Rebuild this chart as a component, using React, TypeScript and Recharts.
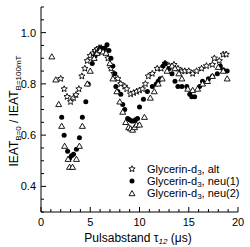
import React from "react";
import { ScatterChart, Scatter, XAxis, YAxis } from "recharts";

// Glycerin-d3, alt (open stars)
const altX = [2.0, 2.35, 2.65, 3.0, 3.3, 3.55, 3.85, 4.15, 4.45, 4.7, 5.0, 5.3, 5.5, 5.7, 5.9, 6.1, 6.3, 6.5, 6.8, 7.1, 7.4, 7.8, 8.1, 8.5, 8.7, 9.1, 9.4, 9.7, 10.0, 10.3, 10.6, 10.9, 11.3, 11.8, 12.2, 12.6, 13.0, 13.5, 13.9, 14.3, 14.6, 15.0, 15.4, 15.8, 16.3, 16.8, 17.4, 17.6, 18.1, 18.5, 18.8];
const altY = [0.82, 0.78, 0.75, 0.73, 0.745, 0.757, 0.78, 0.83, 0.86, 0.89, 0.91, 0.92, 0.93, 0.935, 0.94, 0.94, 0.935, 0.93, 0.9, 0.86, 0.84, 0.82, 0.8, 0.79, 0.78, 0.76, 0.765, 0.77, 0.775, 0.78, 0.8, 0.83, 0.84, 0.86, 0.86, 0.88, 0.87, 0.875, 0.86, 0.85, 0.85, 0.85, 0.84, 0.85, 0.86, 0.87, 0.875, 0.9, 0.89, 0.915, 0.915];

// Glycerin-d3, neu(1) (filled circles)
const neu1X = [2.1, 2.35, 2.7, 2.9, 3.1, 3.3, 3.6, 3.9, 4.2, 4.55, 4.8, 5.2, 5.5, 5.7, 5.9, 6.1, 6.3, 6.5, 6.7, 6.9, 7.1, 7.3, 7.5, 7.6, 7.8, 8.1, 8.3, 8.5, 8.8, 9.0, 9.2, 9.4, 9.6, 9.8, 10.0, 10.4, 10.8, 11.3, 11.7, 11.9, 12.1, 12.4, 12.6, 13.0, 13.3, 13.6, 13.9, 14.3, 14.8, 15.1, 15.3, 15.6, 16.1, 16.4, 17.0, 17.4, 17.9, 18.2, 18.5, 18.9];
const neu1Y = [0.67, 0.6, 0.537, 0.51, 0.52, 0.525, 0.545, 0.59, 0.67, 0.73, 0.8, 0.88, 0.91, 0.92, 0.93, 0.94, 0.935, 0.94, 0.953, 0.93, 0.9, 0.87, 0.84, 0.79, 0.77, 0.76, 0.72, 0.7, 0.665, 0.66, 0.655, 0.655, 0.66, 0.665, 0.71, 0.74, 0.77, 0.79, 0.8, 0.81, 0.82, 0.87, 0.88, 0.86, 0.84, 0.81, 0.79, 0.79, 0.79, 0.76, 0.75, 0.75, 0.79, 0.81, 0.82, 0.83, 0.84, 0.87, 0.855, 0.85];

// Glycerin-d3, neu(2) (open triangles)
const neu2X = [1.1, 1.5, 1.8, 2.1, 2.4, 2.75, 2.9, 3.2, 3.6, 3.9, 4.2, 4.7, 5.0, 5.4, 5.7, 6.0, 6.3, 6.6, 7.0, 7.3, 7.7, 8.0, 8.3, 8.6, 8.9, 9.1, 9.3, 9.5, 9.7, 10.0, 10.5, 11.1, 11.5, 11.9, 12.3, 12.8, 13.3, 13.6, 14.0, 14.3, 14.9, 15.4, 15.9, 16.4, 16.9, 17.4, 18.0, 18.5, 18.9];
const neu2Y = [0.906, 0.816, 0.72, 0.635, 0.557, 0.506, 0.475, 0.475, 0.506, 0.557, 0.635, 0.8, 0.85, 0.9, 0.92, 0.93, 0.925, 0.92, 0.88, 0.82, 0.77, 0.73, 0.69, 0.65, 0.63, 0.625, 0.62, 0.63, 0.64, 0.64, 0.67, 0.745, 0.77, 0.8, 0.82, 0.85, 0.87, 0.86, 0.84, 0.82, 0.78, 0.775, 0.78, 0.8, 0.81, 0.83, 0.865, 0.85, 0.82];

const xTicks = [0, 1, 2, 3, 4, 5, 6, 7, 8, 9, 10, 11, 12, 13, 14, 15, 16, 17, 18, 19, 20];
const yTicks = [0.3, 0.35, 0.4, 0.45, 0.5, 0.55, 0.6, 0.65, 0.7, 0.75, 0.8, 0.85, 0.9, 0.95, 1.0, 1.05, 1.1];
const yLabels = ["0.4", "0.6", "0.8", "1.0"];

const FONT = "'Liberation Sans', Arial, sans-serif";

const toPoints = (xs: number[], ys: number[]) => xs.map((x, i) => ({ x, y: ys[i] }));

const isMajorX = (v: number) => v % 5 === 0;
const isMajorY = (v: number) => yLabels.includes(v.toFixed(1)) && Math.abs(v * 10 - Math.round(v * 10)) < 1e-6;

const BottomTick = (p: any) => {
  const v = p.payload.value;
  const major = isMajorX(v);
  return (
    <g>
      <line x1={p.x} x2={p.x} y1={p.y} y2={p.y - (major ? 5 : 3)} stroke="#000" />
      {major && (
        <text x={p.x} y={p.y + 14} textAnchor="middle" fontSize={11} fontFamily={FONT} fill="#000">{v}</text>
      )}
    </g>
  );
};

const TopTick = (p: any) => {
  const major = isMajorX(p.payload.value);
  return <line x1={p.x} x2={p.x} y1={p.y} y2={p.y + (major ? 5 : 3)} stroke="#000" />;
};

const LeftTick = (p: any) => {
  const v = p.payload.value;
  const major = isMajorY(v);
  return (
    <g>
      <line x1={p.x} x2={p.x + (major ? 5 : 3)} y1={p.y} y2={p.y} stroke="#000" />
      {major && (
        <text x={p.x - 5} y={p.y + 4} textAnchor="end" fontSize={11} fontFamily={FONT} fill="#000">{v.toFixed(1)}</text>
      )}
    </g>
  );
};

const RightTick = (p: any) => {
  const major = isMajorY(p.payload.value);
  return <line x1={p.x} x2={p.x - (major ? 5 : 3)} y1={p.y} y2={p.y} stroke="#000" />;
};

const starPath = (cx: number, cy: number, ro: number, ri: number) => {
  let d = "";
  for (let i = 0; i < 10; i++) {
    const r = i % 2 === 0 ? ro : ri;
    const a = -Math.PI / 2 + (i * Math.PI) / 5;
    d += (i === 0 ? "M" : "L") + (cx + r * Math.cos(a)).toFixed(2) + "," + (cy + r * Math.sin(a)).toFixed(2);
  }
  return d + "Z";
};

const StarShape = (p: any) => <path d={starPath(p.cx, p.cy, 3.3, 1.5)} fill="#fff" stroke="#000" strokeWidth={0.9} />;
const DotShape = (p: any) => <circle cx={p.cx} cy={p.cy} r={2.5} fill="#000" />;
const TriShape = (p: any) => (
  <path d={`M${p.cx},${p.cy - 3}L${p.cx - 3},${p.cy + 2.2}L${p.cx + 3},${p.cy + 2.2}Z`} fill="#fff" stroke="#000" strokeWidth={0.9} />
);

const legendRows = [
  { label: "alt", icon: "star" },
  { label: "neu(1)", icon: "dot" },
  { label: "neu(2)", icon: "tri" },
];

export default function App() {
  return (
    <div style={{ position: "absolute", left: 0, top: 0, width: 250, height: 247, background: "#fff" }}>
      <ScatterChart width={250} height={247} margin={{ top: 7, right: 12, bottom: 0, left: 0 }}>
        <XAxis
          xAxisId="b" type="number" dataKey="x" domain={[0, 20]} ticks={xTicks} interval={0}
          height={35} tickSize={0} tickMargin={0} tick={BottomTick} axisLine={{ stroke: "#000" }} tickLine={false}
        />
        <XAxis
          xAxisId="t" orientation="top" type="number" dataKey="x" domain={[0, 20]} ticks={xTicks} interval={0}
          height={0} tickSize={0} tickMargin={0} tick={TopTick} axisLine={{ stroke: "#000" }} tickLine={false}
        />
        <YAxis
          yAxisId="l" type="number" dataKey="y" domain={[0.3, 1.1]} ticks={yTicks} interval={0}
          width={41} tickSize={0} tickMargin={0} tick={LeftTick} axisLine={{ stroke: "#000" }} tickLine={false}
        />
        <YAxis
          yAxisId="r" orientation="right" type="number" dataKey="y" domain={[0.3, 1.1]} ticks={yTicks} interval={0}
          width={0} tickSize={0} tickMargin={0} tick={RightTick} axisLine={{ stroke: "#000" }} tickLine={false}
        />
        <Scatter xAxisId="b" yAxisId="l" data={toPoints(altX, altY)} shape={StarShape} isAnimationActive={false} />
        <Scatter xAxisId="b" yAxisId="l" data={toPoints(neu1X, neu1Y)} shape={DotShape} isAnimationActive={false} />
        <Scatter xAxisId="b" yAxisId="l" data={toPoints(neu2X, neu2Y)} shape={TriShape} isAnimationActive={false} />
      </ScatterChart>

      {/* labels + legend drawn on top */}
      <svg width={250} height={247} style={{ position: "absolute", left: 0, top: 0, pointerEvents: "none" }} fontFamily={FONT} fill="#000">
        <text transform="translate(18,111) rotate(-90)" textAnchor="middle" fontSize={12}>
          IEAT<tspan fontSize={8} dy={3}>B=0</tspan>
          <tspan dy={-3}> / IEAT</tspan>
          <tspan fontSize={8} dy={3}>B=100mT</tspan>
        </text>

        <text x={138} y={242} textAnchor="middle" fontSize={12}>
          Pulsabstand τ<tspan fontSize={8} dy={2} fontStyle="italic">12</tspan>
          <tspan dy={-2}> (μs)</tspan>
        </text>

        {legendRows.map((r, i) => {
          const cy = 169 + i * 12;
          return (
            <g key={r.label}>
              {r.icon === "star" && <StarShape cx={132} cy={cy} />}
              {r.icon === "dot" && <DotShape cx={132} cy={cy} />}
              {r.icon === "tri" && <TriShape cx={132} cy={cy + 0.5} />}
              <text x={147} y={cy + 4} fontSize={11}>
                Glycerin-d<tspan fontSize={8} dy={2}>3</tspan>
                <tspan dy={-2}>, {r.label}</tspan>
              </text>
            </g>
          );
        })}
      </svg>
    </div>
  );
}
